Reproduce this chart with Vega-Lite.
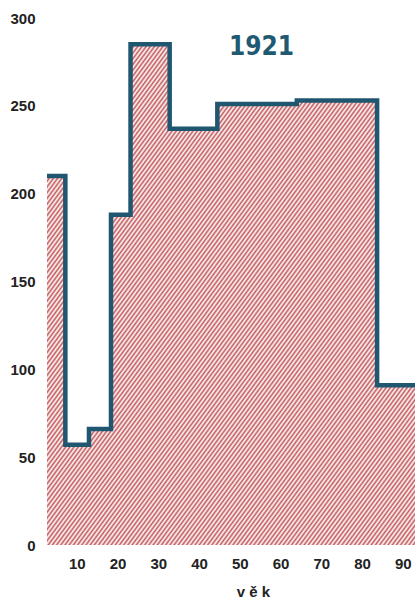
{
  "$schema": "https://vega.github.io/schema/vega-lite/v6.json",
  "autosize": {"type": "none"},
  "padding": {"left": 36, "top": 18, "right": 0, "bottom": 55},
  "width": 379,
  "height": 527,
  "background": "#ffffff",
  "config": {
    "view": {"stroke": null},
    "axis": {
      "grid": false,
      "domain": false,
      "ticks": false,
      "labelFont": "Liberation Sans",
      "labelFontWeight": "bold",
      "labelFontSize": 15,
      "labelColor": "#222222",
      "titleFont": "Liberation Sans",
      "titleFontWeight": "bold",
      "titleFontSize": 15,
      "titleColor": "#222222"
    }
  },
  "title": {
    "text": "1921",
    "font": "DejaVu Sans Condensed, sans-serif",
    "fontSize": 26,
    "fontWeight": "bold",
    "color": "#1f5a72",
    "anchor": "middle",
    "frame": "group",
    "baseline": "alphabetic",
    "dx": 36,
    "dy": 74
  },
  "data": {
    "values": [
      {"age": 2.7, "n": 210},
      {"age": 7.2, "n": 57},
      {"age": 13, "n": 66},
      {"age": 18.4, "n": 188},
      {"age": 23.2, "n": 285},
      {"age": 32.8, "n": 237},
      {"age": 44.5, "n": 251},
      {"age": 64, "n": 253},
      {"age": 83.7, "n": 91},
      {"age": 93, "n": 91}
    ]
  },
  "encoding": {
    "x": {
      "field": "age",
      "type": "quantitative",
      "scale": {"domain": [0, 93], "nice": false, "zero": false},
      "axis": {
        "values": [10, 20, 30, 40, 50, 60, 70, 80, 90],
        "labelPadding": 11,
        "title": "v ě k",
        "titleX": 217,
        "titleY": 51,
        "titleBaseline": "alphabetic"
      }
    },
    "y": {
      "field": "n",
      "type": "quantitative",
      "scale": {"domain": [0, 300], "nice": false},
      "axis": {
        "values": [0, 50, 100, 150, 200, 250, 300],
        "labelPadding": 1,
        "title": null
      }
    }
  },
  "layer": [
    {
      "mark": {
        "type": "area",
        "interpolate": "step-after",
        "fill": {
          "gradient": "linear",
          "x1": 0, "y1": 0, "x2": 1.14, "y2": 1.14,
          "stops": [
{"offset":0,"color":"#c4575a"},{"offset":0.0025,"color":"#fff"},{"offset":0.005,"color":"#c4575a"},{"offset":0.0075,"color":"#fff"},
{"offset":0.01,"color":"#c4575a"},{"offset":0.0125,"color":"#fff"},{"offset":0.015,"color":"#c4575a"},{"offset":0.0175,"color":"#fff"},
{"offset":0.02,"color":"#c4575a"},{"offset":0.0225,"color":"#fff"},{"offset":0.025,"color":"#c4575a"},{"offset":0.0275,"color":"#fff"},
{"offset":0.03,"color":"#c4575a"},{"offset":0.0325,"color":"#fff"},{"offset":0.035,"color":"#c4575a"},{"offset":0.0375,"color":"#fff"},
{"offset":0.04,"color":"#c4575a"},{"offset":0.0425,"color":"#fff"},{"offset":0.045,"color":"#c4575a"},{"offset":0.0475,"color":"#fff"},
{"offset":0.05,"color":"#c4575a"},{"offset":0.0525,"color":"#fff"},{"offset":0.055,"color":"#c4575a"},{"offset":0.0575,"color":"#fff"},
{"offset":0.06,"color":"#c4575a"},{"offset":0.0625,"color":"#fff"},{"offset":0.065,"color":"#c4575a"},{"offset":0.0675,"color":"#fff"},
{"offset":0.07,"color":"#c4575a"},{"offset":0.0725,"color":"#fff"},{"offset":0.075,"color":"#c4575a"},{"offset":0.0775,"color":"#fff"},
{"offset":0.08,"color":"#c4575a"},{"offset":0.0825,"color":"#fff"},{"offset":0.085,"color":"#c4575a"},{"offset":0.0875,"color":"#fff"},
{"offset":0.09,"color":"#c4575a"},{"offset":0.0925,"color":"#fff"},{"offset":0.095,"color":"#c4575a"},{"offset":0.0975,"color":"#fff"},
{"offset":0.10,"color":"#c4575a"},{"offset":0.1025,"color":"#fff"},{"offset":0.105,"color":"#c4575a"},{"offset":0.1075,"color":"#fff"},
{"offset":0.11,"color":"#c4575a"},{"offset":0.1125,"color":"#fff"},{"offset":0.115,"color":"#c4575a"},{"offset":0.1175,"color":"#fff"},
{"offset":0.12,"color":"#c4575a"},{"offset":0.1225,"color":"#fff"},{"offset":0.125,"color":"#c4575a"},{"offset":0.1275,"color":"#fff"},
{"offset":0.13,"color":"#c4575a"},{"offset":0.1325,"color":"#fff"},{"offset":0.135,"color":"#c4575a"},{"offset":0.1375,"color":"#fff"},
{"offset":0.14,"color":"#c4575a"},{"offset":0.1425,"color":"#fff"},{"offset":0.145,"color":"#c4575a"},{"offset":0.1475,"color":"#fff"},
{"offset":0.15,"color":"#c4575a"},{"offset":0.1525,"color":"#fff"},{"offset":0.155,"color":"#c4575a"},{"offset":0.1575,"color":"#fff"},
{"offset":0.16,"color":"#c4575a"},{"offset":0.1625,"color":"#fff"},{"offset":0.165,"color":"#c4575a"},{"offset":0.1675,"color":"#fff"},
{"offset":0.17,"color":"#c4575a"},{"offset":0.1725,"color":"#fff"},{"offset":0.175,"color":"#c4575a"},{"offset":0.1775,"color":"#fff"},
{"offset":0.18,"color":"#c4575a"},{"offset":0.1825,"color":"#fff"},{"offset":0.185,"color":"#c4575a"},{"offset":0.1875,"color":"#fff"},
{"offset":0.19,"color":"#c4575a"},{"offset":0.1925,"color":"#fff"},{"offset":0.195,"color":"#c4575a"},{"offset":0.1975,"color":"#fff"},
{"offset":0.20,"color":"#c4575a"},{"offset":0.2025,"color":"#fff"},{"offset":0.205,"color":"#c4575a"},{"offset":0.2075,"color":"#fff"},
{"offset":0.21,"color":"#c4575a"},{"offset":0.2125,"color":"#fff"},{"offset":0.215,"color":"#c4575a"},{"offset":0.2175,"color":"#fff"},
{"offset":0.22,"color":"#c4575a"},{"offset":0.2225,"color":"#fff"},{"offset":0.225,"color":"#c4575a"},{"offset":0.2275,"color":"#fff"},
{"offset":0.23,"color":"#c4575a"},{"offset":0.2325,"color":"#fff"},{"offset":0.235,"color":"#c4575a"},{"offset":0.2375,"color":"#fff"},
{"offset":0.24,"color":"#c4575a"},{"offset":0.2425,"color":"#fff"},{"offset":0.245,"color":"#c4575a"},{"offset":0.2475,"color":"#fff"},
{"offset":0.25,"color":"#c4575a"},{"offset":0.2525,"color":"#fff"},{"offset":0.255,"color":"#c4575a"},{"offset":0.2575,"color":"#fff"},
{"offset":0.26,"color":"#c4575a"},{"offset":0.2625,"color":"#fff"},{"offset":0.265,"color":"#c4575a"},{"offset":0.2675,"color":"#fff"},
{"offset":0.27,"color":"#c4575a"},{"offset":0.2725,"color":"#fff"},{"offset":0.275,"color":"#c4575a"},{"offset":0.2775,"color":"#fff"},
{"offset":0.28,"color":"#c4575a"},{"offset":0.2825,"color":"#fff"},{"offset":0.285,"color":"#c4575a"},{"offset":0.2875,"color":"#fff"},
{"offset":0.29,"color":"#c4575a"},{"offset":0.2925,"color":"#fff"},{"offset":0.295,"color":"#c4575a"},{"offset":0.2975,"color":"#fff"},
{"offset":0.30,"color":"#c4575a"},{"offset":0.3025,"color":"#fff"},{"offset":0.305,"color":"#c4575a"},{"offset":0.3075,"color":"#fff"},
{"offset":0.31,"color":"#c4575a"},{"offset":0.3125,"color":"#fff"},{"offset":0.315,"color":"#c4575a"},{"offset":0.3175,"color":"#fff"},
{"offset":0.32,"color":"#c4575a"},{"offset":0.3225,"color":"#fff"},{"offset":0.325,"color":"#c4575a"},{"offset":0.3275,"color":"#fff"},
{"offset":0.33,"color":"#c4575a"},{"offset":0.3325,"color":"#fff"},{"offset":0.335,"color":"#c4575a"},{"offset":0.3375,"color":"#fff"},
{"offset":0.34,"color":"#c4575a"},{"offset":0.3425,"color":"#fff"},{"offset":0.345,"color":"#c4575a"},{"offset":0.3475,"color":"#fff"},
{"offset":0.35,"color":"#c4575a"},{"offset":0.3525,"color":"#fff"},{"offset":0.355,"color":"#c4575a"},{"offset":0.3575,"color":"#fff"},
{"offset":0.36,"color":"#c4575a"},{"offset":0.3625,"color":"#fff"},{"offset":0.365,"color":"#c4575a"},{"offset":0.3675,"color":"#fff"},
{"offset":0.37,"color":"#c4575a"},{"offset":0.3725,"color":"#fff"},{"offset":0.375,"color":"#c4575a"},{"offset":0.3775,"color":"#fff"},
{"offset":0.38,"color":"#c4575a"},{"offset":0.3825,"color":"#fff"},{"offset":0.385,"color":"#c4575a"},{"offset":0.3875,"color":"#fff"},
{"offset":0.39,"color":"#c4575a"},{"offset":0.3925,"color":"#fff"},{"offset":0.395,"color":"#c4575a"},{"offset":0.3975,"color":"#fff"},
{"offset":0.40,"color":"#c4575a"},{"offset":0.4025,"color":"#fff"},{"offset":0.405,"color":"#c4575a"},{"offset":0.4075,"color":"#fff"},
{"offset":0.41,"color":"#c4575a"},{"offset":0.4125,"color":"#fff"},{"offset":0.415,"color":"#c4575a"},{"offset":0.4175,"color":"#fff"},
{"offset":0.42,"color":"#c4575a"},{"offset":0.4225,"color":"#fff"},{"offset":0.425,"color":"#c4575a"},{"offset":0.4275,"color":"#fff"},
{"offset":0.43,"color":"#c4575a"},{"offset":0.4325,"color":"#fff"},{"offset":0.435,"color":"#c4575a"},{"offset":0.4375,"color":"#fff"},
{"offset":0.44,"color":"#c4575a"},{"offset":0.4425,"color":"#fff"},{"offset":0.445,"color":"#c4575a"},{"offset":0.4475,"color":"#fff"},
{"offset":0.45,"color":"#c4575a"},{"offset":0.4525,"color":"#fff"},{"offset":0.455,"color":"#c4575a"},{"offset":0.4575,"color":"#fff"},
{"offset":0.46,"color":"#c4575a"},{"offset":0.4625,"color":"#fff"},{"offset":0.465,"color":"#c4575a"},{"offset":0.4675,"color":"#fff"},
{"offset":0.47,"color":"#c4575a"},{"offset":0.4725,"color":"#fff"},{"offset":0.475,"color":"#c4575a"},{"offset":0.4775,"color":"#fff"},
{"offset":0.48,"color":"#c4575a"},{"offset":0.4825,"color":"#fff"},{"offset":0.485,"color":"#c4575a"},{"offset":0.4875,"color":"#fff"},
{"offset":0.49,"color":"#c4575a"},{"offset":0.4925,"color":"#fff"},{"offset":0.495,"color":"#c4575a"},{"offset":0.4975,"color":"#fff"},
{"offset":0.50,"color":"#c4575a"},{"offset":0.5025,"color":"#fff"},{"offset":0.505,"color":"#c4575a"},{"offset":0.5075,"color":"#fff"},
{"offset":0.51,"color":"#c4575a"},{"offset":0.5125,"color":"#fff"},{"offset":0.515,"color":"#c4575a"},{"offset":0.5175,"color":"#fff"},
{"offset":0.52,"color":"#c4575a"},{"offset":0.5225,"color":"#fff"},{"offset":0.525,"color":"#c4575a"},{"offset":0.5275,"color":"#fff"},
{"offset":0.53,"color":"#c4575a"},{"offset":0.5325,"color":"#fff"},{"offset":0.535,"color":"#c4575a"},{"offset":0.5375,"color":"#fff"},
{"offset":0.54,"color":"#c4575a"},{"offset":0.5425,"color":"#fff"},{"offset":0.545,"color":"#c4575a"},{"offset":0.5475,"color":"#fff"},
{"offset":0.55,"color":"#c4575a"},{"offset":0.5525,"color":"#fff"},{"offset":0.555,"color":"#c4575a"},{"offset":0.5575,"color":"#fff"},
{"offset":0.56,"color":"#c4575a"},{"offset":0.5625,"color":"#fff"},{"offset":0.565,"color":"#c4575a"},{"offset":0.5675,"color":"#fff"},
{"offset":0.57,"color":"#c4575a"},{"offset":0.5725,"color":"#fff"},{"offset":0.575,"color":"#c4575a"},{"offset":0.5775,"color":"#fff"},
{"offset":0.58,"color":"#c4575a"},{"offset":0.5825,"color":"#fff"},{"offset":0.585,"color":"#c4575a"},{"offset":0.5875,"color":"#fff"},
{"offset":0.59,"color":"#c4575a"},{"offset":0.5925,"color":"#fff"},{"offset":0.595,"color":"#c4575a"},{"offset":0.5975,"color":"#fff"},
{"offset":0.60,"color":"#c4575a"},{"offset":0.6025,"color":"#fff"},{"offset":0.605,"color":"#c4575a"},{"offset":0.6075,"color":"#fff"},
{"offset":0.61,"color":"#c4575a"},{"offset":0.6125,"color":"#fff"},{"offset":0.615,"color":"#c4575a"},{"offset":0.6175,"color":"#fff"},
{"offset":0.62,"color":"#c4575a"},{"offset":0.6225,"color":"#fff"},{"offset":0.625,"color":"#c4575a"},{"offset":0.6275,"color":"#fff"},
{"offset":0.63,"color":"#c4575a"},{"offset":0.6325,"color":"#fff"},{"offset":0.635,"color":"#c4575a"},{"offset":0.6375,"color":"#fff"},
{"offset":0.64,"color":"#c4575a"},{"offset":0.6425,"color":"#fff"},{"offset":0.645,"color":"#c4575a"},{"offset":0.6475,"color":"#fff"},
{"offset":0.65,"color":"#c4575a"},{"offset":0.6525,"color":"#fff"},{"offset":0.655,"color":"#c4575a"},{"offset":0.6575,"color":"#fff"},
{"offset":0.66,"color":"#c4575a"},{"offset":0.6625,"color":"#fff"},{"offset":0.665,"color":"#c4575a"},{"offset":0.6675,"color":"#fff"},
{"offset":0.67,"color":"#c4575a"},{"offset":0.6725,"color":"#fff"},{"offset":0.675,"color":"#c4575a"},{"offset":0.6775,"color":"#fff"},
{"offset":0.68,"color":"#c4575a"},{"offset":0.6825,"color":"#fff"},{"offset":0.685,"color":"#c4575a"},{"offset":0.6875,"color":"#fff"},
{"offset":0.69,"color":"#c4575a"},{"offset":0.6925,"color":"#fff"},{"offset":0.695,"color":"#c4575a"},{"offset":0.6975,"color":"#fff"},
{"offset":0.70,"color":"#c4575a"},{"offset":0.7025,"color":"#fff"},{"offset":0.705,"color":"#c4575a"},{"offset":0.7075,"color":"#fff"},
{"offset":0.71,"color":"#c4575a"},{"offset":0.7125,"color":"#fff"},{"offset":0.715,"color":"#c4575a"},{"offset":0.7175,"color":"#fff"},
{"offset":0.72,"color":"#c4575a"},{"offset":0.7225,"color":"#fff"},{"offset":0.725,"color":"#c4575a"},{"offset":0.7275,"color":"#fff"},
{"offset":0.73,"color":"#c4575a"},{"offset":0.7325,"color":"#fff"},{"offset":0.735,"color":"#c4575a"},{"offset":0.7375,"color":"#fff"},
{"offset":0.74,"color":"#c4575a"},{"offset":0.7425,"color":"#fff"},{"offset":0.745,"color":"#c4575a"},{"offset":0.7475,"color":"#fff"},
{"offset":0.75,"color":"#c4575a"},{"offset":0.7525,"color":"#fff"},{"offset":0.755,"color":"#c4575a"},{"offset":0.7575,"color":"#fff"},
{"offset":0.76,"color":"#c4575a"},{"offset":0.7625,"color":"#fff"},{"offset":0.765,"color":"#c4575a"},{"offset":0.7675,"color":"#fff"},
{"offset":0.77,"color":"#c4575a"},{"offset":0.7725,"color":"#fff"},{"offset":0.775,"color":"#c4575a"},{"offset":0.7775,"color":"#fff"},
{"offset":0.78,"color":"#c4575a"},{"offset":0.7825,"color":"#fff"},{"offset":0.785,"color":"#c4575a"},{"offset":0.7875,"color":"#fff"},
{"offset":0.79,"color":"#c4575a"},{"offset":0.7925,"color":"#fff"},{"offset":0.795,"color":"#c4575a"},{"offset":0.7975,"color":"#fff"},
{"offset":0.80,"color":"#c4575a"},{"offset":0.8025,"color":"#fff"},{"offset":0.805,"color":"#c4575a"},{"offset":0.8075,"color":"#fff"},
{"offset":0.81,"color":"#c4575a"},{"offset":0.8125,"color":"#fff"},{"offset":0.815,"color":"#c4575a"},{"offset":0.8175,"color":"#fff"},
{"offset":0.82,"color":"#c4575a"},{"offset":0.8225,"color":"#fff"},{"offset":0.825,"color":"#c4575a"},{"offset":0.8275,"color":"#fff"},
{"offset":0.83,"color":"#c4575a"},{"offset":0.8325,"color":"#fff"},{"offset":0.835,"color":"#c4575a"},{"offset":0.8375,"color":"#fff"},
{"offset":0.84,"color":"#c4575a"},{"offset":0.8425,"color":"#fff"},{"offset":0.845,"color":"#c4575a"},{"offset":0.8475,"color":"#fff"},
{"offset":0.85,"color":"#c4575a"},{"offset":0.8525,"color":"#fff"},{"offset":0.855,"color":"#c4575a"},{"offset":0.8575,"color":"#fff"},
{"offset":0.86,"color":"#c4575a"},{"offset":0.8625,"color":"#fff"},{"offset":0.865,"color":"#c4575a"},{"offset":0.8675,"color":"#fff"},
{"offset":0.87,"color":"#c4575a"},{"offset":0.8725,"color":"#fff"},{"offset":0.875,"color":"#c4575a"},{"offset":0.8775,"color":"#fff"},
{"offset":0.88,"color":"#c4575a"}
          ]
        }
      }
    },
    {
      "mark": {
        "type": "line",
        "interpolate": "step-after",
        "color": "#1f5670",
        "strokeWidth": 4.5
      }
    }
  ]
}
